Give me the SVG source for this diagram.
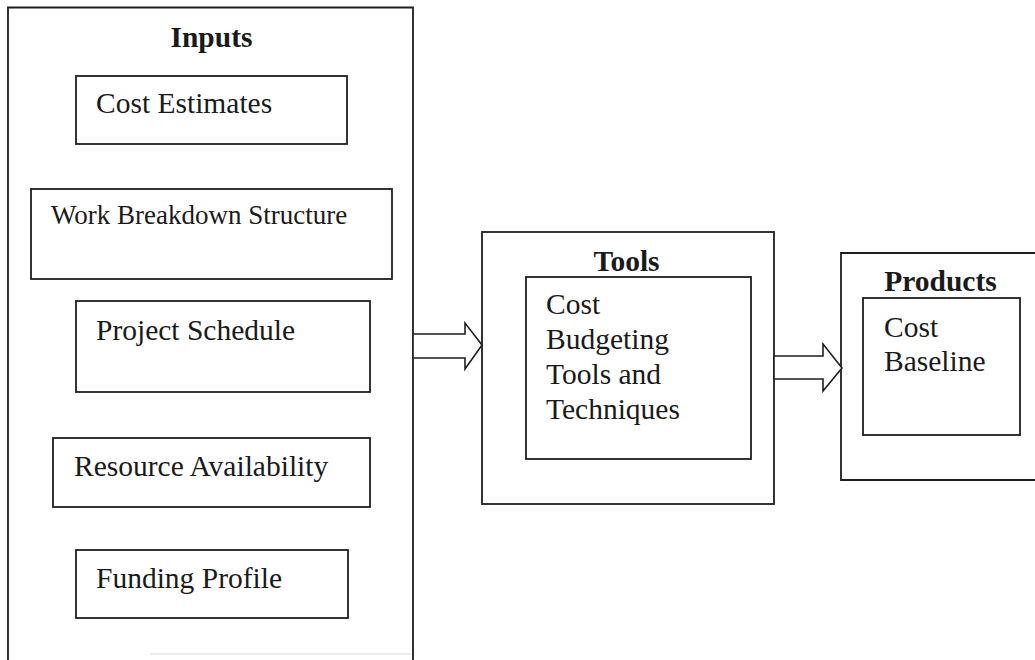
<svg xmlns="http://www.w3.org/2000/svg" width="1035" height="660" viewBox="0 0 1035 660">
  <style>
    .box { fill: none; stroke: #1e1e1e; stroke-width: 1.8; }
    .arrow { fill: #ffffff; stroke: #1e1e1e; stroke-width: 1.6; stroke-linejoin: miter; }
    .label { font-family: "Liberation Serif", "Times New Roman", serif; font-size: 29.5px; fill: #1a1a1a; }
    .title { font-family: "Liberation Serif", "Times New Roman", serif; font-size: 29.5px; font-weight: bold; fill: #1a1a1a; text-anchor: middle; }
  </style>
  <rect width="1035" height="660" fill="#ffffff"/>

  <!-- Inputs group -->
  <g id="inputs">
    <path class="box" d="M8,660 V7.5 H413 V660"/>
    <line x1="150" y1="654" x2="411" y2="654" stroke="#d8d8d8" stroke-width="1.2"/>
    <text class="title" x="211.5" y="47">Inputs</text>
  </g>

  <g id="cost-estimates">
    <rect class="box" x="76" y="76" width="271" height="68"/>
    <text class="label" x="96" y="113">Cost Estimates</text>
  </g>

  <g id="work-breakdown-structure">
    <rect class="box" x="31" y="189" width="361" height="90"/>
    <text class="label" x="51" y="224" style="font-size:27px">Work Breakdown Structure</text>
  </g>

  <g id="project-schedule">
    <rect class="box" x="76" y="301" width="294" height="91"/>
    <text class="label" x="96" y="340">Project Schedule</text>
  </g>

  <g id="resource-availability">
    <rect class="box" x="53" y="438" width="317" height="69"/>
    <text class="label" x="74" y="476">Resource Availability</text>
  </g>

  <g id="funding-profile">
    <rect class="box" x="76" y="550" width="272" height="68"/>
    <text class="label" x="96" y="588">Funding Profile</text>
  </g>

  <!-- Tools group -->
  <g id="tools">
    <rect class="box" x="482" y="232" width="292" height="272"/>
    <text class="title" x="626.5" y="271">Tools</text>
    <rect class="box" x="526" y="277" width="225" height="182"/>
    <text class="label" x="546" y="314">Cost</text>
    <text class="label" x="546" y="349">Budgeting</text>
    <text class="label" x="546" y="384">Tools and</text>
    <text class="label" x="546" y="419">Techniques</text>
  </g>

  <!-- Products group -->
  <g id="products">
    <path class="box" d="M1035,253 H841 V480 H1035"/>
    <text class="title" x="940.5" y="291">Products</text>
    <rect class="box" x="863" y="298" width="157" height="137"/>
    <text class="label" x="884" y="337">Cost</text>
    <text class="label" x="884" y="371">Baseline</text>
  </g>

  <!-- Connectors -->
  <g id="connectors">
    <polygon class="arrow" points="413,334 465,334 465,323 482,345 465,369 465,358 413,358"/>
    <polygon class="arrow" points="774,356 823,356 823,344 842,368 823,391 823,379 774,379"/>
  </g>
</svg>
